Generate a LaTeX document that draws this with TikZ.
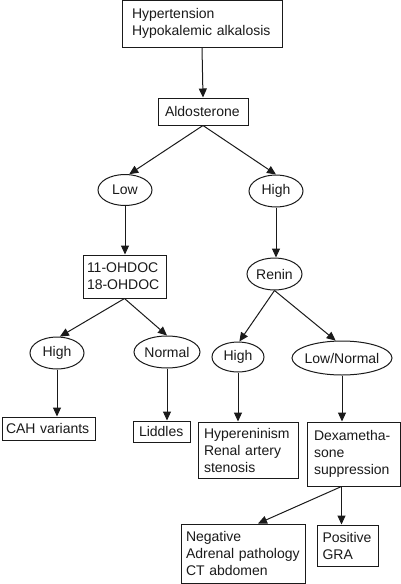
\documentclass[tikz,border=0pt]{standalone}
\usepackage{fontspec}
\setmainfont{Liberation Sans}
\usetikzlibrary{arrows.meta,shapes.geometric}
\definecolor{ink}{HTML}{1A1A1A}
\tikzset{
  box/.style={draw=ink, line width=1pt, fill=white, inner ysep=0pt, align=left, font=\fontsize{14}{17}\selectfont},
  oval/.style={draw=ink, ellipse, line width=1pt, fill=white, inner sep=0pt, align=center, font=\fontsize{14}{17}\selectfont},
  arr/.style={-{Triangle[length=9pt,width=8pt]}, line width=1pt, draw=ink}
}

\begin{document}
\begin{tikzpicture}[x=1pt, y=-1pt, text=ink]
  \useasboundingbox (0,0) rectangle (400,584);

  \node[box, minimum width=160pt, minimum height=47pt, inner xsep=10pt, text width=140pt] (sympt) at (202,23.5) {Hypertension\\Hypokalemic alkalosis};
  \node[box, minimum width=90pt, minimum height=27pt, inner xsep=7pt, text width=76pt] (aldo) at (203,111.5) {Aldosterone};
  \draw[arr] (sympt.south) -- (aldo.north);

  \node[oval, minimum width=54pt, minimum height=31pt] (aldolow) at (125,190) {Low};
  \node[oval, minimum width=54pt, minimum height=32pt] (aldohigh) at (276,191) {High};
  \draw[arr] (aldo.south) -- (aldolow.75);
  \draw[arr] (aldo.south) -- (aldohigh.north);

  \node[box, minimum width=83pt, minimum height=43pt, inner xsep=4pt, text width=75pt] (ohdoc) at (124.5,276.5) {11-OHDOC\\18-OHDOC};
  \node[oval, minimum width=55pt, minimum height=32pt] (renin) at (274.5,274) {Renin};
  \draw[arr] (aldolow.south) -- (aldolow.south |- ohdoc.north);
  \draw[arr] (aldohigh.south) -- (aldohigh.south |- renin.north);

  \node[oval, minimum width=54pt, minimum height=32pt] (ohhigh) at (57,353) {High};
  \node[oval, minimum width=66pt, minimum height=32pt] (ohnormal) at (167,352) {Normal};
  \node[oval, minimum width=52pt, minimum height=30pt] (reninhigh) at (238,357) {High};
  \node[oval, minimum width=100pt, minimum height=34pt, inner xsep=-2pt] (reninlow) at (342,358) {Low/Normal};
  \draw[arr] (ohdoc.south) -- (ohhigh.80);
  \draw[arr] (ohdoc.south) -- (ohnormal.north);
  \draw[arr] (renin.south) -- (reninhigh.85);
  \draw[arr] (renin.south) -- (reninlow.110);

  \node[box, minimum width=93pt, minimum height=23pt, inner xsep=4pt, text width=85pt] (cah) at (48.5,428.5) {CAH variants};
  \node[box, minimum width=57pt, minimum height=21pt, inner xsep=6pt, text width=45pt] (liddle) at (161.5,431.5) {Liddles};
  \node[box, minimum width=100pt, minimum height=56pt, inner xsep=6pt, text width=88pt] (hyper) at (248,450) {Hypereninism\\Renal artery\\stenosis};
  \node[box, minimum width=93pt, minimum height=64pt, inner xsep=7pt, text width=79pt] (dexa) at (353.5,454) {Dexametha-\\sone\\suppression};
  \draw[arr] (ohhigh.south) -- (ohhigh.south |- cah.north);
  \draw[arr] (ohnormal.south) -- (ohnormal.south |- liddle.north);
  \draw[arr] (reninhigh.south) -- (reninhigh.south |- hyper.north);
  \draw[arr] (reninlow.south) -- (reninlow.south |- dexa.north);

  \node[box, minimum width=124pt, minimum height=59pt, inner xsep=5pt, text width=114pt] (negative) at (243,553.5) {Negative\\Adrenal pathology\\CT abdomen};
  \node[box, minimum width=61pt, minimum height=41pt, inner xsep=5.5pt, text width=50pt] (positive) at (347.5,545.5) {Positive\\GRA};
  \draw[arr] ([xshift=-12pt]dexa.south) -- ([xshift=15pt]negative.north);
  \draw[arr] ([xshift=-12pt]dexa.south) -- ([xshift=-6pt]positive.north);
\end{tikzpicture}
\end{document}
